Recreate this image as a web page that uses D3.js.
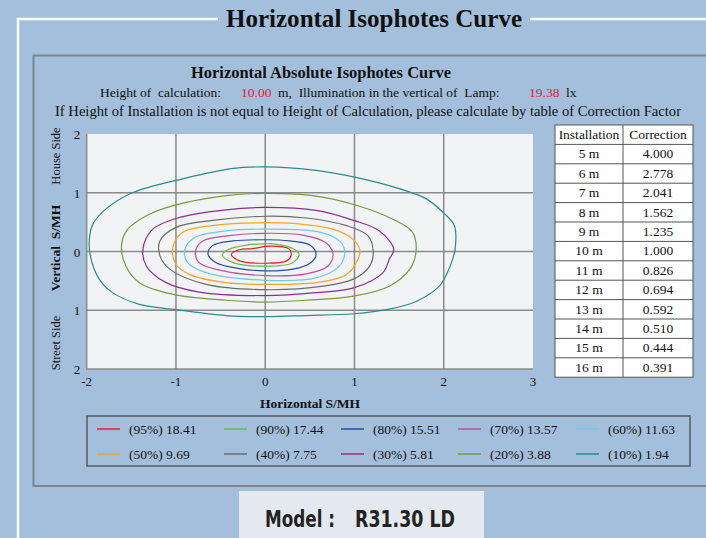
<!doctype html>
<html>
<meta content="text/html;charset=utf-8" http-equiv="Content-Type">
<style>
    body { margin: 0; background: #a3bfdb; }
    svg text { font-family: "Liberation Serif", "DejaVu Serif", serif; fill: #111; }
</style>
<head>
    <title>Horizontal Isophotes Curve</title>
    <script src="https://d3js.org/d3.v7.min.js" charset="utf-8"></script>
</head>
<body>
<svg id="chart" width="706" height="538"></svg>
<script>
    // ---- data ----
    var xTicks = [-2, -1, 0, 1, 2, 3];
    var yTicks = [2, 1, 0, -1, -2];
    var yTickLabels = ["2", "1", "0", "1", "2"];

    var levels = ["95%", "90%", "80%", "70%", "60%", "50%", "40%", "30%", "20%", "10%"];
    var levelLux = ["18.41", "17.44", "15.51", "13.57", "11.63", "9.69", "7.75", "5.81", "3.88", "1.94"];
    var levelColors = ["#e8202a", "#66bd45", "#2b4ca8", "#c24f9f", "#6bcde0",
                       "#f5a623", "#6b6b6b", "#8e2f8e", "#789a3e", "#2d8a8f"];

    var installHeights = ["5 m", "6 m", "7 m", "8 m", "9 m", "10 m", "11 m", "12 m", "13 m", "14 m", "15 m", "16 m"];
    var corrections = ["4.000", "2.778", "2.041", "1.562", "1.235", "1.000", "0.826", "0.694", "0.592", "0.510", "0.444", "0.391"];

    // contour outlines, [x, y] in S/MH units
    var c95 = [[0.05,0.09],[-0.14,0.05],[-0.29,0.03],[-0.38,-0.05],[-0.29,-0.16],[0,-0.20],[0.24,-0.16],[0.29,-0.07],[0.27,0.04]];
    var c90 = [[0,0.13],[-0.21,0.11],[-0.42,0.03],[-0.48,-0.06],[-0.36,-0.19],[0,-0.25],[0.31,-0.19],[0.38,-0.05],[0.31,0.05],[0.09,0.13]];
    var c80 = [[0,0.20],[-0.36,0.18],[-0.59,0.10],[-0.64,-0.05],[-0.55,-0.19],[-0.29,-0.29],[0,-0.33],[0.31,-0.30],[0.51,-0.19],[0.57,-0.05],[0.50,0.11],[0.27,0.18]];
    var c70 = [[0,0.31],[-0.40,0.27],[-0.70,0.18],[-0.78,0.01],[-0.74,-0.19],[-0.47,-0.33],[0,-0.41],[0.46,-0.38],[0.70,-0.25],[0.76,-0.05],[0.68,0.15],[0.42,0.28]];
    var c60 = [[0,0.38],[-0.44,0.35],[-0.79,0.24],[-0.90,0.04],[-0.87,-0.19],[-0.66,-0.36],[0,-0.49],[0.57,-0.45],[0.83,-0.25],[0.89,0.01],[0.83,0.18],[0.61,0.33]];
    var c50 = [[0,0.49],[-0.55,0.45],[-0.92,0.33],[-1.03,0.10],[-1.01,-0.19],[-0.85,-0.39],[-0.44,-0.53],[0,-0.56],[0.57,-0.53],[0.91,-0.39],[1.04,-0.13],[1.06,0.03],[0.98,0.21],[0.76,0.38],[0.38,0.47]];
    var c40 = [[0,0.60],[-0.59,0.53],[-1.0,0.41],[-1.18,0.18],[-1.18,-0.07],[-1.07,-0.30],[-0.66,-0.56],[0,-0.65],[0.65,-0.59],[0.99,-0.47],[1.17,-0.25],[1.21,0.0],[1.15,0.27],[0.91,0.44],[0.46,0.57]];
    var c30 = [[0,0.75],[-0.44,0.71],[-0.96,0.58],[-1.26,0.38],[-1.37,0.04],[-1.33,-0.25],[-1.11,-0.53],[-0.74,-0.69],[0,-0.75],[0.57,-0.70],[0.99,-0.62],[1.32,-0.36],[1.39,-0.13],[1.44,0.04],[1.28,0.35],[0.99,0.53],[0.57,0.70]];
    var c20 = [[0,0.99],[-0.44,0.95],[-1.03,0.78],[-1.33,0.61],[-1.54,0.38],[-1.61,0.10],[-1.56,-0.25],[-1.41,-0.53],[-1.03,-0.73],[-0.44,-0.83],[0,-0.86],[0.46,-0.83],[0.99,-0.76],[1.39,-0.59],[1.62,-0.30],[1.69,0.01],[1.65,0.33],[1.43,0.55],[0.99,0.80],[0.53,0.95]];
    var c10 = [[0,1.44],[-0.38,1.41],[-1.0,1.21],[-1.29,1.10],[-1.52,0.98],[-1.78,0.73],[-1.93,0.47],[-1.97,0.21],[-1.96,-0.07],[-1.86,-0.47],[-1.71,-0.70],[-1.41,-0.90],[-1.0,-0.99],[-0.44,-1.09],[0,-1.11],[0.46,-1.09],[0.99,-1.06],[1.39,-0.98],[1.69,-0.85],[1.95,-0.59],[2.04,-0.36],[2.10,-0.13],[2.13,0.07],[2.12,0.44],[2.01,0.64],[1.80,0.90],[1.50,1.07],[0.99,1.27],[0.57,1.38]];
    var contours = [c95, c90, c80, c70, c60, c50, c40, c30, c20, c10];

    var svg = d3.select("#chart");

    // ---- outer frame ----
    svg.append("path").attr("d", "M18,538 V19 H218 M530,19 H706")
        .style("fill", "none").style("stroke", "#fff").style("stroke-width", 2.5);
    svg.append("text").attr("x", 374).attr("y", 27).attr("text-anchor", "middle")
        .attr("textLength", 296).attr("lengthAdjust", "spacingAndGlyphs")
        .style("font-size", "25px").style("font-weight", "bold").text("Horizontal Isophotes Curve");

    svg.append("rect").attr("x", 33.5).attr("y", 55.5).attr("width", 700).attr("height", 430.5)
        .style("fill", "none").style("stroke", "#7b8591").style("stroke-width", 2);

    // ---- headings ----
    svg.append("text").attr("x", 321).attr("y", 78).attr("text-anchor", "middle")
        .attr("textLength", 260).attr("lengthAdjust", "spacingAndGlyphs")
        .style("font-size", "16.5px").style("font-weight", "bold").text("Horizontal Absolute Isophotes Curve");
    var subParts = [["Height of  calculation:", 100, "#111"], ["10.00", 241, "#e02030"],
                    ["m,  Illumination in the vertical of  Lamp:", 278, "#111"], ["19.38", 529, "#e02030"], ["lx", 566, "#111"]];
    subParts.forEach(function (p) {
        svg.append("text").attr("x", p[1]).attr("y", 97).attr("xml:space", "preserve")
            .style("font-size", "13.5px").style("fill", p[2]).text(p[0]);
    });
    svg.append("text").attr("x", 55).attr("y", 116).style("font-size", "14px")
        .attr("textLength", 626).attr("lengthAdjust", "spacingAndGlyphs")
        .text("If Height of  Installation is not equal to Height of  Calculation, please calculate by table of  Correction Factor");

    // ---- plot ----
    var x = d3.scaleLinear().domain([-2, 3]).range([86.7, 533]);
    var y = d3.scaleLinear().domain([-2, 2]).range([369, 134]);

    svg.append("rect").attr("x", x(-2)).attr("y", y(2)).attr("width", x(3) - x(-2)).attr("height", y(-2) - y(2))
        .style("fill", "#f1f3f5");

    var grid = svg.append("g").style("stroke", "#8a8a8a").style("stroke-width", 1.5);
    grid.selectAll(".vg").data(xTicks.slice(1, -1)).enter().append("line")
        .attr("x1", function (d) { return x(d); }).attr("x2", function (d) { return x(d); })
        .attr("y1", y(2)).attr("y2", y(-2));
    grid.selectAll(".hg").data(yTicks.slice(1, -1)).enter().append("line")
        .attr("x1", x(-2)).attr("x2", x(3))
        .attr("y1", function (d) { return y(d); }).attr("y2", function (d) { return y(d); });
    svg.append("path").attr("d", "M" + x(-2) + "," + y(2) + "V" + y(-2) + "H" + x(3))
        .style("fill", "none").style("stroke", "#8a8a8a").style("stroke-width", 1.5);

    var line = d3.line().x(function (d) { return x(d[0]); }).y(function (d) { return y(d[1]); })
        .curve(d3.curveCatmullRomClosed.alpha(0.5));
    svg.append("g").selectAll("path").data(contours).enter().append("path")
        .attr("d", line)
        .style("fill", "none").style("stroke-width", 1.2)
        .style("stroke", function (d, i) { return levelColors[i]; });

    // ticks
    svg.selectAll(".xt").data(xTicks).enter().append("text")
        .attr("x", function (d) { return x(d); }).attr("y", 386).attr("text-anchor", "middle")
        .style("font-size", "13px").text(function (d) { return d; });
    svg.selectAll(".yt").data(yTicks).enter().append("text")
        .attr("x", 77).attr("y", function (d) { return y(d) + 5; }).attr("text-anchor", "middle")
        .style("font-size", "13px").text(function (d, i) { return yTickLabels[i]; });

    svg.append("text").attr("x", 310).attr("y", 408).attr("text-anchor", "middle")
        .style("font-size", "13.5px").style("font-weight", "bold").text("Horizontal  S/MH");
    var yLabels = [["House Side", 156, "normal", "12.5px"], ["Vertical  S/MH", 248, "bold", "13.5px"], ["Street Side", 343, "normal", "12.5px"]];
    yLabels.forEach(function (l) {
        svg.append("text").attr("transform", "translate(60," + l[1] + ") rotate(-90)")
            .attr("text-anchor", "middle").attr("xml:space", "preserve")
            .style("font-size", l[3]).style("font-weight", l[2]).text(l[0]);
    });

    // ---- correction table ----
    var tx = 555, tw1 = 68, tw2 = 70, rowH = 19.4, ty = 125;
    var rows = [["Installation", "Correction"]].concat(installHeights.map(function (h, i) { return [h, corrections[i]]; }));
    var tbl = svg.append("g");
    tbl.append("rect").attr("x", tx).attr("y", ty).attr("width", tw1 + tw2).attr("height", rowH * rows.length)
        .style("fill", "#fff").style("stroke", "#555").style("stroke-width", 1);
    rows.forEach(function (r, i) {
        if (i > 0) {
            tbl.append("line").attr("x1", tx).attr("x2", tx + tw1 + tw2).attr("y1", ty + i * rowH).attr("y2", ty + i * rowH)
                .style("stroke", "#555").style("stroke-width", 1);
        }
        tbl.append("text").attr("x", tx + tw1 / 2).attr("y", ty + i * rowH + 14).attr("text-anchor", "middle")
            .style("font-size", "13.5px").text(r[0]);
        tbl.append("text").attr("x", tx + tw1 + tw2 / 2).attr("y", ty + i * rowH + 14).attr("text-anchor", "middle")
            .style("font-size", "13.5px").text(r[1]);
    });
    tbl.append("line").attr("x1", tx + tw1).attr("x2", tx + tw1).attr("y1", ty).attr("y2", ty + rowH * rows.length)
        .style("stroke", "#555").style("stroke-width", 1);

    // ---- legend ----
    svg.append("rect").attr("x", 87).attr("y", 416).attr("width", 603).attr("height", 50)
        .style("fill", "none").style("stroke", "#5a5a5a").style("stroke-width", 1.5);
    var legX = [97, 224, 341, 458, 576];
    levels.forEach(function (lv, i) {
        var cx = legX[i % 5], cy = i < 5 ? 429 : 454;
        svg.append("line").attr("x1", cx).attr("x2", cx + 23).attr("y1", cy).attr("y2", cy)
            .style("stroke", levelColors[i]).style("stroke-width", 1.5);
        svg.append("text").attr("x", cx + 32).attr("y", cy + 4.5).style("font-size", "13.5px")
            .text("(" + lv + ") " + levelLux[i]);
    });

    // ---- model box ----
    svg.append("rect").attr("x", 239).attr("y", 491).attr("width", 245).attr("height", 50).style("fill", "#e4e9ef");
    var mFont = "'DejaVu Sans Condensed', 'Liberation Sans Narrow', sans-serif";
    [["Model :", 265, 70], ["R31.30 LD", 355, 100]].forEach(function (m) {
        svg.append("text").attr("x", m[1]).attr("y", 527).attr("textLength", m[2]).attr("lengthAdjust", "spacingAndGlyphs")
            .style("font-family", mFont).style("font-size", "23px").style("font-weight", "bold").style("fill", "#222")
            .text(m[0]);
    });
</script>
</body>
</html>
